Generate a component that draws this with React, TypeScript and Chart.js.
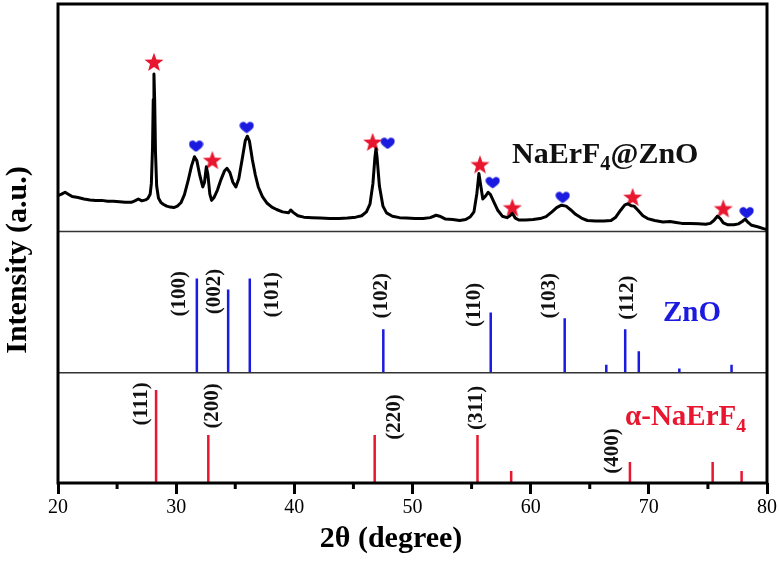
import React, { useEffect, useRef } from 'react';
import { Chart, registerables } from 'chart.js';

Chart.register(...registerables);

// ---- Data ----
const patternTheta = [
  20.0, 20.3, 20.6, 20.8, 21.2, 21.7, 22.2, 22.7, 23.2, 23.7, 24.2, 24.7, 25.2, 25.7, 26.2, 26.5, 26.8, 27.1, 27.4, 27.6,
  27.8, 27.9, 28.0, 28.06, 28.12, 28.18, 28.25, 28.35, 28.5, 28.7, 28.9, 29.2, 29.5, 29.8, 30.1, 30.4, 30.7, 31.0, 31.3, 31.55,
  31.75, 32.0, 32.25, 32.4, 32.55, 32.68, 32.85, 33.0, 33.2, 33.5, 33.8, 34.1, 34.3, 34.55, 34.8, 35.05, 35.3, 35.6, 35.85, 36.02,
  36.2, 36.45, 36.7, 36.95, 37.3, 37.7, 38.1, 38.5, 39.0, 39.5, 39.7, 39.9, 40.3, 40.8, 41.5, 42.2, 43.0, 43.8, 44.5, 45.2,
  45.7, 46.1, 46.4, 46.65, 46.82, 46.91, 47.0, 47.2, 47.5, 47.8, 48.3, 48.9, 49.5, 50.2, 50.9, 51.5, 52.0, 52.3, 52.8, 53.4,
  54.0, 54.5, 54.9, 55.2, 55.45, 55.62, 55.78, 55.95, 56.15, 56.4, 56.6, 56.9, 57.2, 57.6, 58.0, 58.25, 58.45, 58.7, 59.0, 59.6,
  60.2, 60.8, 61.3, 61.8, 62.2, 62.6, 63.0, 63.4, 63.8, 64.3, 64.8, 65.5, 66.2, 66.8, 67.2, 67.6, 67.95, 68.2, 68.5, 68.75,
  69.1, 69.5, 69.9, 70.5, 71.2, 71.8, 72.3, 72.8, 73.5, 74.2, 74.8, 75.2, 75.5, 75.8, 76.05, 76.3, 76.7, 77.2, 77.6, 77.9,
  78.15, 78.4, 78.7, 79.2, 79.7, 80.0,
];
const patternIntensity = [
  60.0, 60.3, 60.7, 60.4, 59.8, 59.6, 59.3, 59.1, 59.0, 59.0, 58.8, 58.8, 58.7, 58.6, 58.6, 58.9, 59.3, 58.9, 59.1, 59.4,
  60.3, 62.5, 70.0, 80.0, 85.4, 80.0, 69.0, 62.0, 59.5, 58.6, 58.2, 57.8, 57.6, 57.5, 57.8, 58.5, 60.2, 63.0, 66.2, 68.1,
  67.3, 64.2, 61.8, 62.8, 66.0, 64.5, 60.3, 59.0, 59.6, 61.2, 63.4, 65.2, 65.7, 64.8, 62.8, 61.8, 63.5, 67.8, 71.5, 72.4,
  71.4, 67.5, 64.3, 61.8, 59.8, 58.4, 57.6, 57.1, 56.6, 56.4, 57.0, 56.5, 55.8, 55.5, 55.4, 55.3, 55.2, 55.2, 55.3, 55.5,
  55.8, 56.6, 58.2, 62.5, 68.0, 69.8, 68.0, 62.0, 57.8, 56.4, 55.7, 55.4, 55.3, 55.2, 55.2, 55.4, 55.9, 55.7, 55.1, 55.0,
  54.8, 55.0, 55.6, 56.6, 60.5, 64.6, 62.0, 59.3, 59.8, 60.7, 60.2, 58.6, 57.0, 55.7, 55.4, 55.8, 56.3, 55.3, 54.9, 54.9,
  55.0, 55.2, 55.6, 56.6, 57.5, 58.0, 57.8, 57.0, 56.1, 55.3, 54.8, 54.7, 54.7, 54.8, 55.5, 56.9, 58.0, 58.3, 57.9, 57.8,
  56.9, 55.8, 55.2, 54.8, 54.5, 54.6, 54.4, 54.2, 54.2, 54.1, 54.0, 54.2, 54.8, 55.7, 55.2, 54.3, 53.9, 53.9, 54.1, 54.6,
  55.1, 54.4, 53.8, 53.5, 53.1, 52.9,
];

// ZnO reference sticks
const znoTheta = [31.75, 34.4, 36.23, 47.53, 56.62, 62.88, 66.4, 68.0, 69.15, 72.58, 77.0];
const znoHeight = [19.7, 17.4, 19.7, 9.1, 12.6, 11.4, 1.7, 9.1, 4.5, 0.9, 1.7];
const znoBase = 23;
const znoHkl = ['(100)', '(002)', '(101)', '(102)', '(110)', '(103)', '(112)'];
const znoHklTheta = [30.32, 33.29, 38.2, 47.39, 55.29, 61.64, 68.24];
const znoHklY = [39.5, 40.0, 39.3, 39.1, 37.2, 39.1, 38.7];

// alpha-NaErF4 reference sticks
const naerTheta = [28.3, 32.72, 46.8, 55.5, 58.35, 68.4, 75.4, 77.85];
const naerHeight = [19.4, 10.0, 10.0, 10.0, 2.5, 4.4, 4.4, 2.5];
const naerBase = 0;
const naerHkl = ['(111)', '(200)', '(220)', '(311)', '(400)'];
const naerHklTheta = [27.08, 33.12, 48.52, 55.46, 66.97];
const naerHklY = [16.5, 16.1, 13.8, 15.7, 6.7];

// Peak markers
const starTheta = [28.12, 33.06, 46.63, 55.71, 58.45, 68.63, 76.3];
const starY = [87.9, 67.4, 71.2, 66.5, 57.5, 59.7, 57.3];
const heartTheta = [31.68, 35.97, 47.9, 56.79, 62.71, 78.28];
const heartY = [70.4, 74.3, 71.0, 62.8, 59.7, 56.5];

// Panel separators
const separators = [23, 52.5];

const xMajor = [20, 30, 40, 50, 60, 70, 80];

const SERIF = "'Liberation Serif', 'Times New Roman', serif";
const RED = '#e8172f';
const BLUE = '#1a1ae0';

function stickData(thetas: number[], heights: number[], base: number) {
  const out: { x: number; y: number | null }[] = [];
  thetas.forEach((t, i) => {
    out.push({ x: t, y: base });
    out.push({ x: t, y: base + heights[i] });
    out.push({ x: t, y: null });
  });
  return out;
}

function makeStar(): HTMLCanvasElement {
  const c = document.createElement('canvas');
  c.width = 20; c.height = 20;
  const g = c.getContext('2d')!;
  g.fillStyle = RED;
  g.beginPath();
  for (let i = 0; i < 10; i++) {
    const r = i % 2 === 0 ? 10 : 4.2;
    const a = -Math.PI / 2 + (i * Math.PI) / 5;
    const px = 10 + r * Math.cos(a);
    const py = 10.8 + r * Math.sin(a);
    if (i === 0) g.moveTo(px, py); else g.lineTo(px, py);
  }
  g.closePath();
  g.fill();
  return c;
}

function makeHeart(): HTMLCanvasElement {
  const c = document.createElement('canvas');
  c.width = 15; c.height = 13;
  const g = c.getContext('2d')!;
  g.fillStyle = BLUE;
  g.beginPath();
  g.moveTo(7.5, 12.5);
  g.bezierCurveTo(2.5, 9.5, 0, 7, 0.5, 4);
  g.bezierCurveTo(1, 0.8, 5.5, 0, 7.5, 3.2);
  g.bezierCurveTo(9.5, 0, 14, 0.8, 14.5, 4);
  g.bezierCurveTo(15, 7, 12.5, 9.5, 7.5, 12.5);
  g.closePath();
  g.fill();
  return c;
}

type Part = { t: string; sub?: boolean };

function drawRich(ctx: CanvasRenderingContext2D, parts: Part[], x: number, y: number, size: number, color: string) {
  ctx.save();
  ctx.fillStyle = color;
  ctx.textBaseline = 'middle';
  ctx.textAlign = 'left';
  let cx = x;
  parts.forEach((p) => {
    const s = p.sub ? size * 0.68 : size;
    ctx.font = `bold ${s}px ${SERIF}`;
    ctx.fillText(p.t, cx, p.sub ? y + size * 0.3 : y);
    cx += ctx.measureText(p.t).width;
  });
  ctx.restore();
}

const decorPlugin = {
  id: 'decor',
  afterDatasetsDraw(chart: any) {
    const { ctx, chartArea } = chart;
    const xs = chart.scales.x;
    const ys = chart.scales.y;
    ctx.save();
    // separators
    ctx.strokeStyle = '#333';
    ctx.lineWidth = 1.5;
    separators.forEach((v) => {
      const py = ys.getPixelForValue(v);
      ctx.beginPath();
      ctx.moveTo(chartArea.left, py);
      ctx.lineTo(chartArea.right, py);
      ctx.stroke();
    });
    // box
    ctx.strokeStyle = '#000';
    ctx.lineWidth = 3;
    ctx.strokeRect(chartArea.left, chartArea.top, chartArea.right - chartArea.left, chartArea.bottom - chartArea.top);
    // minor ticks
    for (let v = 25; v < 80; v += 10) {
      const px = xs.getPixelForValue(v);
      ctx.beginPath();
      ctx.moveTo(px, chartArea.bottom);
      ctx.lineTo(px, chartArea.bottom + 6);
      ctx.stroke();
    }
    // hkl labels
    const drawRot = (txt: string, t: number, v: number) => {
      ctx.save();
      ctx.translate(xs.getPixelForValue(t), ys.getPixelForValue(v));
      ctx.rotate(-Math.PI / 2);
      ctx.font = `bold 21px ${SERIF}`;
      ctx.fillStyle = '#111';
      ctx.textAlign = 'center';
      ctx.textBaseline = 'middle';
      ctx.fillText(txt, 0, 0);
      ctx.restore();
    };
    znoHkl.forEach((h, i) => drawRot(h, znoHklTheta[i], znoHklY[i]));
    naerHkl.forEach((h, i) => drawRot(h, naerHklTheta[i], naerHklY[i]));

    // phase labels
    drawRich(ctx, [{ t: 'NaErF' }, { t: '4', sub: true }, { t: '@ZnO' }], xs.getPixelForValue(58.42), ys.getPixelForValue(68.4), 30, '#111');
    drawRich(ctx, [{ t: 'ZnO' }], xs.getPixelForValue(71.2), ys.getPixelForValue(35.4), 29, BLUE);
    drawRich(ctx, [{ t: 'α-NaErF' }, { t: '4', sub: true }], xs.getPixelForValue(67.99), ys.getPixelForValue(13.6), 29, RED);

    // axis titles
    ctx.fillStyle = '#000';
    ctx.font = `bold 30px ${SERIF}`;
    ctx.textAlign = 'center';
    ctx.textBaseline = 'middle';
    ctx.fillText('2θ (degree)', 391, 539);
    ctx.save();
    ctx.translate(18, 260);
    ctx.rotate(-Math.PI / 2);
    ctx.fillText('Intensity (a.u.)', 0, 0);
    ctx.restore();
    ctx.restore();
  },
};

export default function App() {
  const ref = useRef<HTMLCanvasElement | null>(null);
  useEffect(() => {
    if (!ref.current) return;
    const star = makeStar();
    const heart = makeHeart();
    const chart = new Chart(ref.current, {
      type: 'line',
      data: {
        datasets: [
          {
            label: 'NaErF4@ZnO',
            data: patternTheta.map((t, i) => ({ x: t, y: patternIntensity[i] })),
            borderColor: '#000',
            borderWidth: 3,
            pointRadius: 0,
            tension: 0,
            borderJoinStyle: 'round',
          },
          {
            label: 'ZnO',
            data: stickData(znoTheta, znoHeight, znoBase),
            borderColor: BLUE,
            borderWidth: 2.5,
            pointRadius: 0,
            spanGaps: false,
          },
          {
            label: 'NaErF4',
            data: stickData(naerTheta, naerHeight, naerBase),
            borderColor: RED,
            borderWidth: 2.5,
            pointRadius: 0,
            spanGaps: false,
          },
          {
            type: 'scatter',
            label: 'star',
            data: starTheta.map((t, i) => ({ x: t, y: starY[i] })),
            pointStyle: star,
            pointRadius: 10,
            showLine: false,
          } as any,
          {
            type: 'scatter',
            label: 'heart',
            data: heartTheta.map((t, i) => ({ x: t, y: heartY[i] })),
            pointStyle: heart,
            pointRadius: 7,
            showLine: false,
          } as any,
        ],
      },
      options: {
        responsive: false,
        animation: false,
        parsing: true,
        layout: { autoPadding: false, padding: { left: 58, right: 12, top: 4, bottom: 40 } },
        plugins: { legend: { display: false }, tooltip: { enabled: false } },
        scales: {
          x: {
            type: 'linear',
            min: 20,
            max: 80,
            border: { display: false },
            grid: {
              drawOnChartArea: false,
              drawTicks: true,
              tickLength: 11,
              tickWidth: 3,
              tickColor: (c: any) => (xMajor.includes(c.tick?.value) ? '#000' : 'rgba(0,0,0,0)'),
            },
            ticks: {
              stepSize: 5,
              padding: 2,
              color: '#000',
              font: { family: SERIF, size: 20 },
              maxRotation: 0,
              autoSkip: false,
              callback: (v: any) => (xMajor.includes(Number(v)) ? String(v) : ''),
            },
          },
          y: {
            type: 'linear',
            display: false,
            min: 0,
            max: 100,
          },
        },
      },
      plugins: [decorPlugin],
    });
    return () => chart.destroy();
  }, []);
  return (
    <div style={{ position: 'absolute', left: 0, top: 0, width: 779, height: 562, background: '#fff' }}>
      <canvas ref={ref} width={779} height={562} style={{ display: 'block' }} />
    </div>
  );
}
